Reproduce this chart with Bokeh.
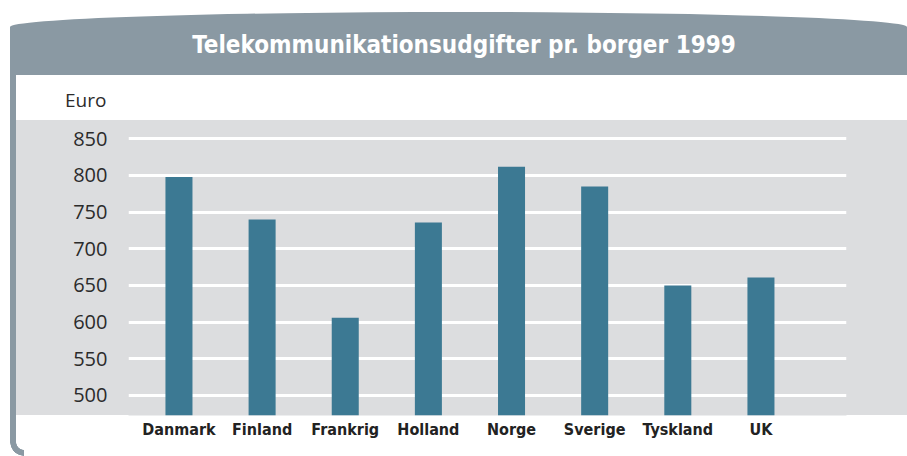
from bokeh.plotting import figure
from bokeh.models import Range1d, FixedTicker, Div
from bokeh.layouts import column
from bokeh.embed import file_html
from bokeh.resources import INLINE

# ---- data ----
categories = ["Danmark", "Finland", "Frankrig", "Holland", "Norge", "Sverige", "Tyskland", "UK"]
values = [798, 740, 606, 736, 812, 785, 650, 661]
y_ticks = [500, 550, 600, 650, 700, 750, 800, 850]
title_text = "Telekommunikationsudgifter pr. borger 1999"
unit_text = "Euro"

GRAY = "#DCDDDF"
BAR = "#3C7993"
HEAD = "#8A99A3"

W = 907
HEAD_H = 120
FIG_H = 456 - HEAD_H
ML, MR, MT, MB = 128, 61, 0, 41
FRAME_H = FIG_H - MT - MB

# ---- header (title band + unit text) ----
header_html = f"""
<div style="position:relative;width:{W}px;height:{HEAD_H}px;background:#ffffff;overflow:hidden;">
  <div style="position:absolute;left:10px;top:12px;width:{W-10}px;height:63px;background:{HEAD};
              border-radius:50% 50% 0 0 / 15px 15px 0 0;"></div>
  <div style="position:absolute;left:10px;top:74px;width:6px;height:{HEAD_H-74}px;background:{HEAD};"></div>
  <div style="position:absolute;left:0px;top:30px;width:928px;height:30px;line-height:30px;text-align:center;
              color:#ffffff;font-family:'DejaVu Sans Condensed','Liberation Sans Narrow','DejaVu Sans',sans-serif;
              font-weight:bold;font-size:24px;font-stretch:condensed;white-space:nowrap;">{title_text}</div>
  <div style="position:absolute;left:65px;top:87px;height:26px;line-height:26px;color:#2b2b2b;
              font-family:'Open Sans',sans-serif;font-size:19px;white-space:nowrap;">{unit_text}</div>
</div>
"""
header = Div(text=header_html, width=W, height=HEAD_H, margin=(0, 0, 0, 0))

# ---- chart ----
bg = ", ".join([
    f"linear-gradient({HEAD},{HEAD}) 10px 0px / 6px {FRAME_H + 27}px no-repeat",
    f"radial-gradient(circle at 14px 0px, rgba(0,0,0,0) 7.5px, {HEAD} 8px, {HEAD} 13.5px, rgba(0,0,0,0) 14px) 10px {FRAME_H + 27}px / 14px 14px no-repeat",
    f"linear-gradient({GRAY},{GRAY}) 16px 0px / {W - 16}px {FRAME_H}px no-repeat",
    "#ffffff",
])

positions = list(range(len(categories)))

p = figure(width=W, height=FIG_H, output_backend="svg", toolbar_location=None,
           x_range=Range1d(-0.607, 8.029), y_range=Range1d(472.7, 875),
           min_border_left=ML, min_border_right=MR, min_border_top=MT, min_border_bottom=MB,
           styles={"background": bg}, margin=(0, 0, 0, 0))
p.background_fill_color = GRAY
p.border_fill_alpha = 0
p.outline_line_color = None

p.vbar(x=positions, top=values, bottom=0, width=0.325, color=BAR, line_color=None)

# grids
p.xgrid.grid_line_color = None
p.ygrid.ticker = FixedTicker(ticks=y_ticks)
p.ygrid.grid_line_color = "white"
p.ygrid.grid_line_width = 3

# y axis
p.yaxis.ticker = FixedTicker(ticks=y_ticks)
p.yaxis.axis_line_color = None
p.yaxis.major_tick_line_color = None
p.yaxis.minor_tick_line_color = None
p.yaxis.major_tick_in = 0
p.yaxis.major_tick_out = 0
p.yaxis.major_label_standoff = 21
p.yaxis.major_label_text_font = "Open Sans"
p.yaxis.major_label_text_font_size = "20px"
p.yaxis.major_label_text_color = "#2b2b2b"

# x axis
p.xaxis.ticker = FixedTicker(ticks=positions)
p.xaxis.major_label_overrides = {i: c for i, c in zip(positions, categories)}
p.xaxis.axis_line_color = None
p.xaxis.major_tick_line_color = None
p.xaxis.minor_tick_line_color = None
p.xaxis.major_tick_in = 0
p.xaxis.major_tick_out = 0
p.xaxis.major_label_standoff = 4
p.xaxis.major_label_text_font = "DejaVu Sans Condensed, Liberation Sans Narrow, DejaVu Sans, sans-serif"
p.xaxis.major_label_text_font_style = "bold"
p.xaxis.major_label_text_font_size = "16px"
p.xaxis.major_label_text_color = "#222222"

layout = column(header, p, spacing=0)
open("out.html", "w").write(file_html(layout, INLINE))
